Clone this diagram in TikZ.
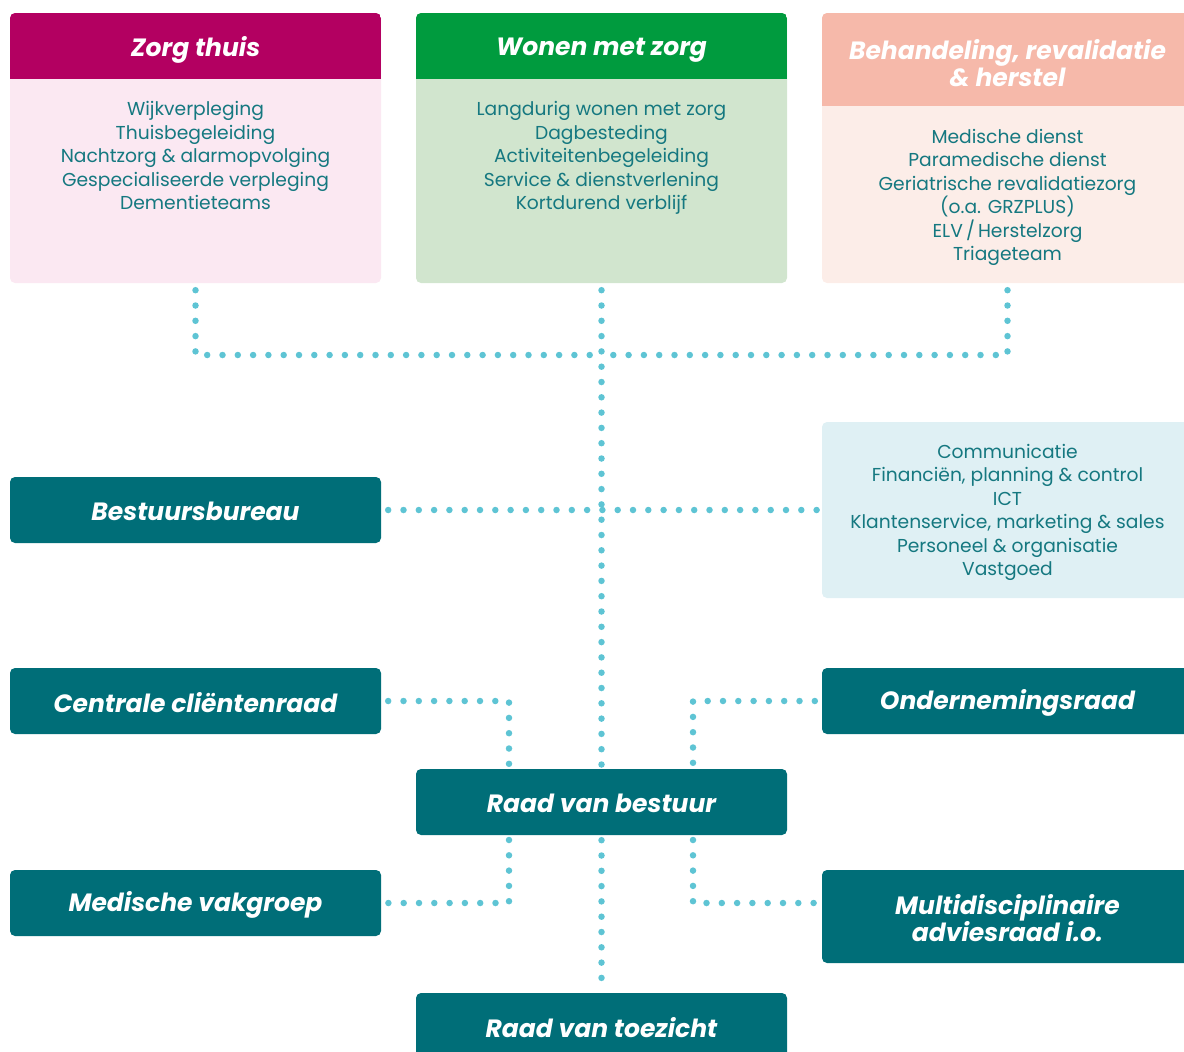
\documentclass[tikz,border=0pt]{standalone}
\usepackage{fontspec}
\setmainfont{Poppins}
\definecolor{magentaH}{HTML}{B30061}
\definecolor{pinkB}{HTML}{FBE8F2}
\definecolor{greenH}{HTML}{009B3E}
\definecolor{greenB}{HTML}{D1E5CE}
\definecolor{salmonH}{HTML}{F6B9AA}
\definecolor{salmonB}{HTML}{FCEDE8}
\definecolor{tealH}{HTML}{006E78}
\definecolor{blueB}{HTML}{DFF0F4}
\definecolor{dotC}{HTML}{5EC4D4}
\definecolor{txtC}{HTML}{157880}
\begin{document}
\begin{tikzpicture}[x=1pt,y=-1pt,
  bodytxt/.style={font=\fontsize{18.7}{23.5}\selectfont, text=txtC, align=center},
  headtxt/.style={font=\fontsize{25}{27.5}\selectfont\bfseries\itshape, text=white, align=center},
  tealbox/.style={fill=tealH, rounded corners=5pt, minimum width=371pt, minimum height=66pt, inner sep=0pt},
  dots/.style={draw=dotC, line width=6.5pt, line cap=round, dash pattern=on 0pt off 15.3pt}]
\useasboundingbox (0,0) rectangle (1184,1052);
\clip (0,0) rectangle (1184,1052);
% column boxes
\node[fill=pinkB, rounded corners=5pt, minimum width=371pt, minimum height=270pt, inner sep=0pt] (zt) at (195.5,148) {};
\node[fill=greenB, rounded corners=5pt, minimum width=371pt, minimum height=270pt, inner sep=0pt] (wz) at (601.5,148) {};
\node[fill=salmonB, rounded corners=5pt, minimum width=371pt, minimum height=270pt, inner sep=0pt] (bh) at (1007.5,148) {};
\begin{scope}
\clip[rounded corners=5pt] (10,13) rectangle (381,283);
\fill[magentaH] (10,13) rectangle (381,79);
\end{scope}
\begin{scope}
\clip[rounded corners=5pt] (416,13) rectangle (787,283);
\fill[greenH] (416,13) rectangle (787,79);
\end{scope}
\begin{scope}
\clip[rounded corners=5pt] (822,13) rectangle (1193,283);
\fill[salmonH] (822,13) rectangle (1193,106);
\end{scope}
\node[headtxt] (zth) at (195.5,50) {Zorg thuis};
\node[headtxt] (wzh) at (601.5,50) {Wonen met zorg};
\node[headtxt] (bhh) at (1007.5,63) {Behandeling, revalidatie\\\& herstel};
\node[bodytxt, anchor=north] (ztt) at (195.5,98) {Wijkverpleging\\Thuisbegeleiding\\Nachtzorg \& alarmopvolging\\Gespecialiseerde verpleging\\Dementieteams};
\node[bodytxt, anchor=north] (wzt) at (601.5,98) {Langdurig wonen met zorg\\Dagbesteding\\Activiteitenbegeleiding\\Service \& dienstverlening\\Kortdurend verblijf};
\node[bodytxt, anchor=north] (bht) at (1007.5,125.5) {Medische dienst\\Paramedische dienst\\Geriatrische revalidatiezorg\\(o.a. GRZPLUS)\\ELV\,/\,Herstelzorg\\Triageteam};
% staff
\node[tealbox] (bb) at (195.5,510) {};
\node[headtxt] at (195.5,511.5) {Bestuursbureau};
\node[fill=blueB, rounded corners=5pt, minimum width=371pt, minimum height=176pt, inner sep=0pt] (st) at (1007.5,510) {};
\node[bodytxt] (stt) at (1007.5,512.5) {Communicatie\\Financiën, planning \& control\\ICT\\Klantenservice, marketing \& sales\\Personeel \& organisatie\\Vastgoed};
% councils
\node[tealbox] (ccr) at (195.5,701) {};
\node[headtxt] at (195.5,702.5) {Centrale cliëntenraad};
\node[tealbox] (or) at (1007.5,701) {};
\node[headtxt] at (1007.5,702.5) {Ondernemingsraad};
\node[tealbox] (rvb) at (601.5,802) {};
\node[headtxt] at (601.5,803.5) {Raad van bestuur};
\node[tealbox] (mv) at (195.5,903) {};
\node[headtxt] at (195.5,904.5) {Medische vakgroep};
\node[tealbox, minimum height=93pt] (mda) at (1007.5,916.5) {};
\node[headtxt] at (1007.5,918) {Multidisciplinaire\\adviesraad i.o.};
\node[tealbox] (rvt) at (601.5,1026) {};
\node[headtxt] at (601.5,1027.5) {Raad van toezicht};
% coordinates
\coordinate (hub) at (601,355);
\coordinate (rvbL) at (509,765);
\coordinate (rvbR) at (693,765);
\coordinate (rvbLb) at (509,840);
\coordinate (rvbRb) at (693,840);
% connectors
\draw[dots] ([yshift=-7pt]zt.south) |- (hub);
\draw[dots] ([yshift=-7pt]bh.south) |- (hub);
\draw[dots] ([yshift=-7pt]wz.south) -- ([yshift=4pt]rvb.north);
\draw[dots] ([xshift=7pt]bb.east) -- ([xshift=-2pt]st.west);
\draw[dots] ([xshift=7pt]ccr.east) -| (rvbL);
\draw[dots] ([xshift=-7pt]or.west) -| (rvbR);
\draw[dots] (rvbLb) |- ([xshift=7pt]mv.east);
\draw[dots] (rvbRb) |- ([xshift=-2pt,yshift=13.5pt]mda.west);
\draw[dots] ([yshift=-5pt]rvb.south) -- ([yshift=5pt]rvt.north);
\end{tikzpicture}
\end{document}
